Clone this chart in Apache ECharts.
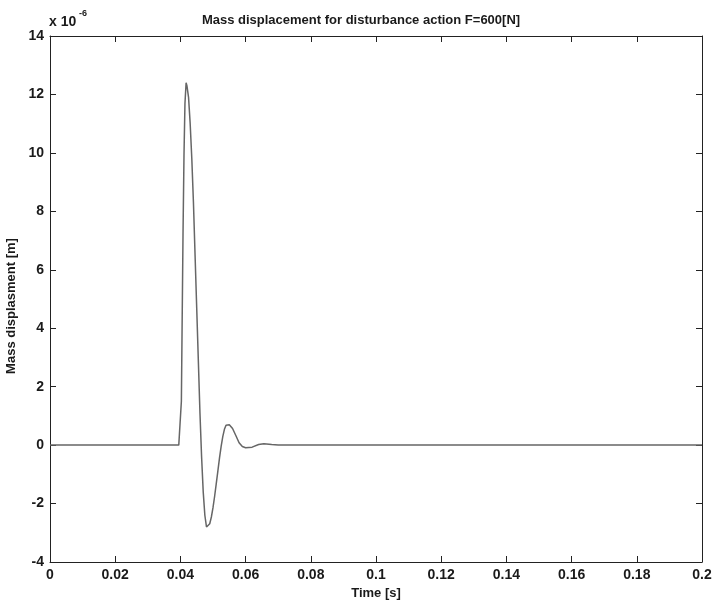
<!DOCTYPE html>
<html><head><meta charset="utf-8">
<script src="https://cdn.jsdelivr.net/npm/echarts@6/dist/echarts.min.js"></script>
<style>html,body{margin:0;padding:0;background:#fff}#c{width:713px;height:600px}</style>
</head><body><div id="c"></div>
<script>
// Time [s]
const timeS = [0, 0.01, 0.02, 0.03, 0.0395, 0.0401, 0.0403, 0.0405, 0.0408, 0.0411, 0.0414, 0.04175,
  0.042, 0.0425, 0.043, 0.0435, 0.044, 0.0445, 0.045, 0.0455, 0.046, 0.0465, 0.047, 0.0475, 0.048, 0.0482,
  0.0485, 0.049, 0.0495, 0.05, 0.0505, 0.051, 0.0515, 0.052, 0.0525, 0.053, 0.0535, 0.054, 0.0544,
  0.055, 0.056, 0.057, 0.058, 0.059, 0.06, 0.0605, 0.062, 0.064, 0.0656, 0.068, 0.07, 0.08, 0.1, 0.12, 0.14, 0.16, 0.18, 0.2];
// Mass displacement [x 1e-6 m]
const dispMicro = [0, 0, 0, 0, 0, 0, 1.5, 3.8, 7.2, 9.9, 11.7, 12.4,
  12.3, 11.9, 11.0, 9.8, 8.3, 6.5, 4.7, 2.9, 1.1, -0.4, -1.6, -2.4, -2.8, -2.83,
  -2.81, -2.69, -2.46, -2.14, -1.75, -1.32, -0.88, -0.44, -0.04, 0.29, 0.54, 0.68, 0.72,
  0.70, 0.57, 0.33, 0.08, -0.05, -0.09, -0.10, -0.07, 0.02, 0.05, 0.02, 0, 0, 0, 0, 0, 0, 0, 0];
const xTicks = [0, 0.02, 0.04, 0.06, 0.08, 0.1, 0.12, 0.14, 0.16, 0.18, 0.2];
const yTicks = [-4, -2, 0, 2, 4, 6, 8, 10, 12, 14];

const seriesData = timeS.map((t, i) => [t, dispMicro[i]]);
const font = 'Liberation Sans, Arial, sans-serif';
const axisCol = '#222';
const txtCol = '#1a1a1a';
const fmtX = v => String(parseFloat(v.toFixed(2)));

const chart = echarts.init(document.getElementById('c'), null, {renderer: 'canvas'});
chart.setOption({
  backgroundColor: '#fff',
  animation: false,
  title: {
    text: 'Mass displacement for disturbance action F=600[N]',
    left: 356, top: 9, textAlign: 'center',
    textStyle: {fontFamily: font, fontSize: 13, fontWeight: 'bold', color: txtCol}
  },
  grid: {left: 50, right: 11, top: 36, bottom: 38, containLabel: false, outerBoundsMode: 'none'},
  xAxis: [{
    type: 'value', min: xTicks[0], max: xTicks[xTicks.length - 1], interval: 0.02,
    name: 'Time [s]', nameLocation: 'middle', nameGap: 18,
    nameTextStyle: {fontFamily: font, fontSize: 13, fontWeight: 'bold', color: txtCol},
    axisLine: {show: true, onZero: false, lineStyle: {color: axisCol, width: 1}},
    axisTick: {inside: true, length: 6, lineStyle: {color: axisCol}},
    axisLabel: {fontFamily: font, fontSize: 14, fontWeight: 'bold', color: txtCol, margin: 6, formatter: fmtX},
    splitLine: {show: false}
  }, {
    type: 'value', position: 'top', min: 0, max: 0.2, interval: 0.02,
    axisLine: {show: true, onZero: false, lineStyle: {color: axisCol, width: 1}},
    axisTick: {inside: true, length: 6, lineStyle: {color: axisCol}},
    axisLabel: {show: false}, splitLine: {show: false}
  }],
  yAxis: [{
    type: 'value', min: yTicks[0], max: yTicks[yTicks.length - 1], interval: 2,
    name: 'Mass displasment [m]', nameLocation: 'middle', nameGap: 25, nameRotate: 90,
    nameTextStyle: {fontFamily: font, fontSize: 13, fontWeight: 'bold', color: txtCol, padding: [0, 14, 0, 0]},
    axisLine: {show: true, onZero: false, lineStyle: {color: axisCol, width: 1}},
    axisTick: {inside: true, length: 6, lineStyle: {color: axisCol}},
    axisLabel: {fontFamily: font, fontSize: 14, fontWeight: 'bold', color: txtCol, margin: 6},
    splitLine: {show: false}
  }, {
    type: 'value', position: 'right', min: -4, max: 14, interval: 2,
    axisLine: {show: true, onZero: false, lineStyle: {color: axisCol, width: 1}},
    axisTick: {inside: true, length: 6, lineStyle: {color: axisCol}},
    axisLabel: {show: false}, splitLine: {show: false}
  }],
  graphic: [{
    type: 'text', left: 49, top: 15,
    style: {text: 'x 10', fill: txtCol, font: 'bold 14px ' + font}
  }, {
    type: 'text', left: 79, top: 9,
    style: {text: '-6', fill: txtCol, font: 'bold 9px ' + font}
  }],
  series: [{
    type: 'line', xAxisIndex: 0, yAxisIndex: 0,
    data: seriesData, showSymbol: false, smooth: false,
    lineStyle: {color: '#666', width: 1.5}
  }]
});
</script>
</body></html>
